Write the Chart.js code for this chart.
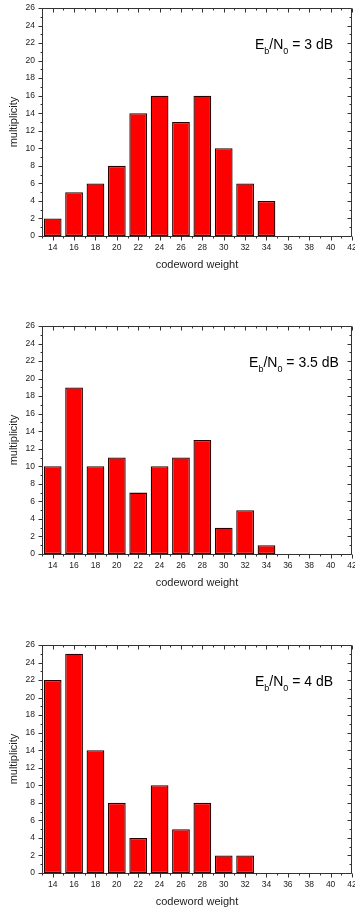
<!DOCTYPE html>
<html>
<head>
<meta charset="utf-8">
<script src="https://cdn.jsdelivr.net/npm/chart.js@4.4.1/dist/chart.umd.min.js"></script>
<style>
  body { margin: 0; background: #fff; }
  .painel { position: absolute; left: 0; width: 355px; height: 276px; }
</style>
</head>
<body>
<div class="painel" style="top:0px"><canvas id="grafico1" width="355" height="276"></canvas></div>
<div class="painel" style="top:318px"><canvas id="grafico2" width="355" height="276"></canvas></div>
<div class="painel" style="top:637px"><canvas id="grafico3" width="355" height="276"></canvas></div>
<script>
// pesos das palavras-codigo (eixo x) e multiplicidade para cada Eb/N0
const pesos = [14, 16, 18, 20, 22, 24, 26, 28, 30, 32, 34];
const mult3dB = [2, 5, 6, 8, 14, 16, 13, 16, 10, 6, 4];
const mult35dB = [10, 19, 10, 11, 7, 10, 11, 13, 3, 5, 1];
const mult4dB = [22, 25, 14, 8, 4, 10, 5, 8, 2, 2, 0];
const rotulosSNR = ['3', '3.5', '4'];

const limitesX = [13, 42];
const limitesY = [0, 26];

const FONTE = "'Liberation Sans', Arial, sans-serif";

// Moldura com marcas maiores (pares) e menores (impares), mais o texto Eb/N0
const moldura = {
    id: 'moldura',
    afterDraw(chart, args, opts) {
        const ctx = chart.ctx;
        const a = chart.chartArea;
        const x = chart.scales.x;
        const y = chart.scales.y;
        const esq = Math.round(a.left) + 0.5;
        const dir = Math.round(a.right) - 0.5;
        const topo = Math.round(a.top) + 0.5;
        const base = Math.round(a.bottom) + 0.5;

        ctx.save();
        ctx.strokeStyle = '#333';
        ctx.lineWidth = 1;
        ctx.beginPath();
        ctx.rect(esq, topo, dir - esq, base - topo);

        for (let v = limitesX[0]; v <= limitesX[1]; v++) {
            const px = Math.round(x.getPixelForValue(v)) + 0.5;
            const t = v % 2 === 0 ? 4 : 2;
            ctx.moveTo(px, base); ctx.lineTo(px, base + t);
            ctx.moveTo(px, topo); ctx.lineTo(px, topo + t);
        }
        for (let v = limitesY[0]; v <= limitesY[1]; v++) {
            const py = Math.round(y.getPixelForValue(v)) + 0.5;
            const t = v % 2 === 0 ? 4 : 2;
            ctx.moveTo(esq, py); ctx.lineTo(esq - t, py);
            ctx.moveTo(dir, py); ctx.lineTo(dir - t, py);
        }
        ctx.stroke();

        // texto E_b/N_0 = ... dB, centrado
        const partes = [
            ['E', 14, 0], ['b', 9, 5], ['/N', 14, 0], ['0', 9, 5], [' = ' + opts.snr + ' dB', 14, 0]
        ];
        let largura = 0;
        partes.forEach(p => {
            ctx.font = p[1] + 'px ' + FONTE;
            largura += ctx.measureText(p[0]).width;
        });
        let tx = a.left + 252 - largura / 2;
        const ty = a.top + 41;
        ctx.fillStyle = '#000';
        ctx.textBaseline = 'alphabetic';
        partes.forEach(p => {
            ctx.font = p[1] + 'px ' + FONTE;
            ctx.fillText(p[0], tx, ty + p[2]);
            tx += ctx.measureText(p[0]).width;
        });
        ctx.restore();
    }
};

function criaGrafico(idCanvas, valores, snr) {
    return new Chart(document.getElementById(idCanvas), {
        type: 'bar',
        data: {
            datasets: [{
                data: pesos.map((p, i) => ({ x: p, y: valores[i] })),
                backgroundColor: '#ff0000',
                borderColor: '#2a0000',
                borderWidth: 1.3,
                borderSkipped: false,
                categoryPercentage: 1,
                barPercentage: 0.83
            }]
        },
        options: {
            responsive: false,
            animation: false,
            devicePixelRatio: 1,
            layout: { padding: { top: 8, right: 3, left: 0, bottom: 0 } },
            plugins: {
                legend: { display: false },
                tooltip: { enabled: false },
                moldura: { snr: snr }
            },
            scales: {
                x: {
                    type: 'linear',
                    min: limitesX[0],
                    max: limitesX[1],
                    offset: false,
                    grid: { display: false, drawTicks: false, offset: false },
                    border: { display: false },
                    ticks: {
                        stepSize: 2,
                        includeBounds: false,
                        autoSkip: false,
                        maxRotation: 0,
                        padding: 7,
                        color: '#222',
                        font: { family: FONTE, size: 8.5 }
                    },
                    title: {
                        display: true,
                        text: 'codeword weight',
                        color: '#222',
                        font: { family: FONTE, size: 11 },
                        padding: { top: 0, bottom: 4 }
                    },
                    afterFit: s => { s.height = 40; s.paddingLeft = 0; s.paddingRight = 0; }
                },
                y: {
                    min: limitesY[0],
                    max: limitesY[1],
                    grid: { display: false, drawTicks: false },
                    border: { display: false },
                    ticks: {
                        stepSize: 2,
                        padding: 7,
                        color: '#222',
                        font: { family: FONTE, size: 8.5 }
                    },
                    title: {
                        display: true,
                        text: 'multiplicity',
                        color: '#222',
                        font: { family: FONTE, size: 11 },
                        padding: { top: 7, bottom: 0 }
                    },
                    afterFit: s => { s.width = 42; s.paddingTop = 0; s.paddingBottom = 0; }
                }
            }
        },
        plugins: [moldura]
    });
}

criaGrafico('grafico1', mult3dB, rotulosSNR[0]);
criaGrafico('grafico2', mult35dB, rotulosSNR[1]);
criaGrafico('grafico3', mult4dB, rotulosSNR[2]);
</script>
</body>
</html>
